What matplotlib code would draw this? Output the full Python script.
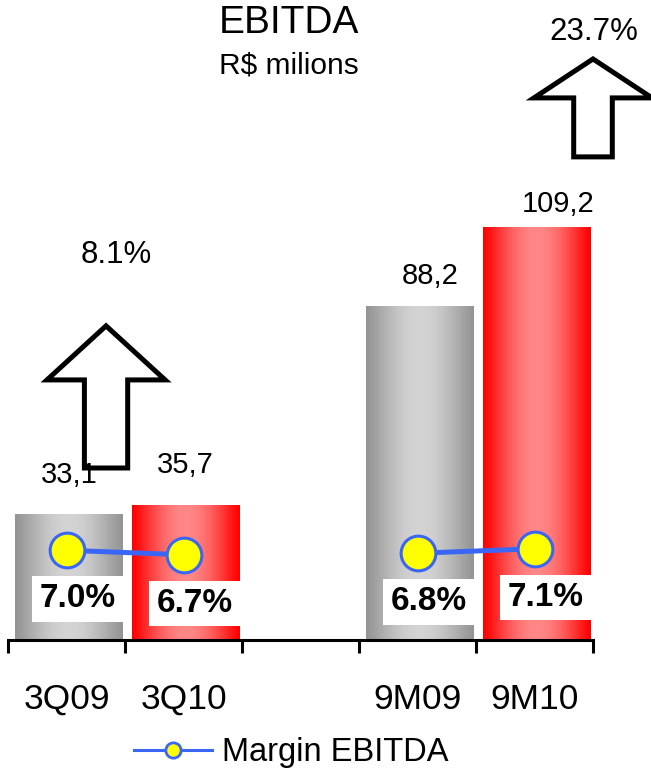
import numpy as np
import matplotlib
matplotlib.use("Agg")
import matplotlib.pyplot as plt
from matplotlib.patches import FancyArrow
from matplotlib.lines import Line2D

plt.rcParams['font.family'] = ['Liberation Sans', 'DejaVu Sans']

# ---- data ----
categories = ['3Q09', '3Q10', '', '9M09', '9M10']
ebitda = [33.1, 35.7, np.nan, 88.2, 109.2]
ebitda_labels = ['33,1', '35,7', '', '88,2', '109,2']
margin = [7.0, 6.7, np.nan, 6.8, 7.1]
margin_labels = ['7.0%', '6.7%', '', '6.8%', '7.1%']
growth_labels = ['8.1%', '23.7%']
title = 'EBITDA'
subtitle = 'R$ milions'
legend_label = 'Margin EBITDA'

# ---- styling / layout ----
W, H = 651, 779
fig = plt.figure(figsize=(W / 100, H / 100), dpi=100)
ax = fig.add_axes([8 / W, 139 / H, 585 / W, 640 / H])
ax2 = ax.twinx()

x = np.arange(len(categories))
gray_edge, gray_mid = np.array([0.58, 0.58, 0.58]), np.array([0.83, 0.83, 0.83])
red_edge, red_mid = np.array([1.0, 0.0, 0.0]), np.array([1.0, 0.53, 0.53])
bar_grads = [(gray_edge, gray_mid), (red_edge, red_mid), None,
             (gray_edge, gray_mid), (red_edge, red_mid)]

bars = ax.bar(x + 0.02, ebitda, width=0.92, color='none', edgecolor='none', zorder=2)
t = np.linspace(0, 1, 256)
prof = np.sin(np.pi * t) ** 1.2
for b, g in zip(bars, bar_grads):
    if g is None or np.isnan(b.get_height()):
        continue
    e, m = g
    img = e[None, :] + (m - e)[None, :] * prof[:, None]
    img = img[None, :, :]
    ax.imshow(img, extent=[b.get_x(), b.get_x() + b.get_width(), 0, b.get_height()],
              aspect='auto', zorder=2, interpolation='bilinear')

ax.set_xlim(-0.5, len(categories) - 0.5)
ax.set_ylim(0, 169.3)

# value labels
val_offsets = [(2, 29), (1, 29), (0, 0), (9, 22), (17, 17)]
for xi, v, lab, off in zip(x, ebitda, ebitda_labels, val_offsets):
    if not lab:
        continue
    ax.annotate(lab, (xi, v), xytext=off, textcoords='offset points',
                ha='center', va='center', fontsize=21, zorder=6)

# margin line (two segments)
ax2.set_ylim(1.017, 1.017 + 640 / 15)
line_color = '#3a66f5'
for seg in [(0, 2), (3, 5)]:
    ax2.plot(x[seg[0]:seg[1]], margin[seg[0]:seg[1]], color=line_color, lw=3.6,
             marker='o', markersize=25, markerfacecolor='#ffff00',
             markeredgecolor=line_color, markeredgewidth=2.2, zorder=4)
for xi, m, lab in zip(x, margin, margin_labels):
    if not lab:
        continue
    ax2.annotate(lab, (xi, m), xytext=(8, -35), textcoords='offset points',
                 ha='center', va='center', fontsize=24, fontweight='bold', zorder=5,
                 bbox=dict(boxstyle='square,pad=0.22', fc='white', ec='none'))

# growth arrows
arrow_specs = [dict(x=0.338, y0=45.5, y1=83.1, hl=14.3, w=0.37, hw=1.01),
               dict(x=4.5, y0=127.8, y1=153.7, hl=10.3, w=0.33, hw=1.01)]
growth_pos = [(0.423, 101.9), (4.508, 160.8)]
for spec, (gx, gy), lab in zip(arrow_specs, growth_pos, growth_labels):
    arr = FancyArrow(spec['x'], spec['y0'], 0, spec['y1'] - spec['y0'], width=spec['w'],
                     head_width=spec['hw'], head_length=spec['hl'],
                     length_includes_head=True, fc='white', ec='black', lw=3.6,
                     joinstyle='miter', zorder=3, clip_on=False)
    ax.add_patch(arr)
    ax.text(gx, gy, lab, ha='center', va='center', fontsize=22.5, zorder=6, clip_on=False)

# axes styling
for s in ['top', 'left', 'right']:
    ax.spines[s].set_visible(False)
    ax2.spines[s].set_visible(False)
ax2.spines['bottom'].set_visible(False)
ax.spines['bottom'].set_linewidth(2.2)
ax.spines['bottom'].set_color('black')
ax.set_yticks([])
ax2.set_yticks([])
ax.set_xticks(x)
ax.set_xticklabels(categories, fontsize=25.5)
ax.tick_params(axis='x', which='major', length=0, pad=31)
ax.set_xticks(np.arange(len(categories) + 1) - 0.5, minor=True)
ax.tick_params(axis='x', which='minor', length=9, width=2.2, direction='out', color='black')

# titles
narrow = ['Liberation Sans Narrow', 'Liberation Sans', 'DejaVu Sans']
fig.text(289 / W, 1 - 23 / H, title, ha='center', va='center', fontsize=28, family=narrow)
fig.text(289 / W, 1 - 65 / H, subtitle, ha='center', va='center', fontsize=21.5, family=narrow)

# legend
handle = Line2D([], [], color=line_color, lw=2.2, marker='o', markersize=11,
                markerfacecolor='#ffff00', markeredgecolor=line_color, markeredgewidth=2)
fig.legend([handle], [legend_label], loc='center', bbox_to_anchor=(291 / W, 26 / H),
           frameon=False, fontsize=23.5, handlelength=2.4, handletextpad=0.3)

fig.savefig('out.png', dpi=100)
